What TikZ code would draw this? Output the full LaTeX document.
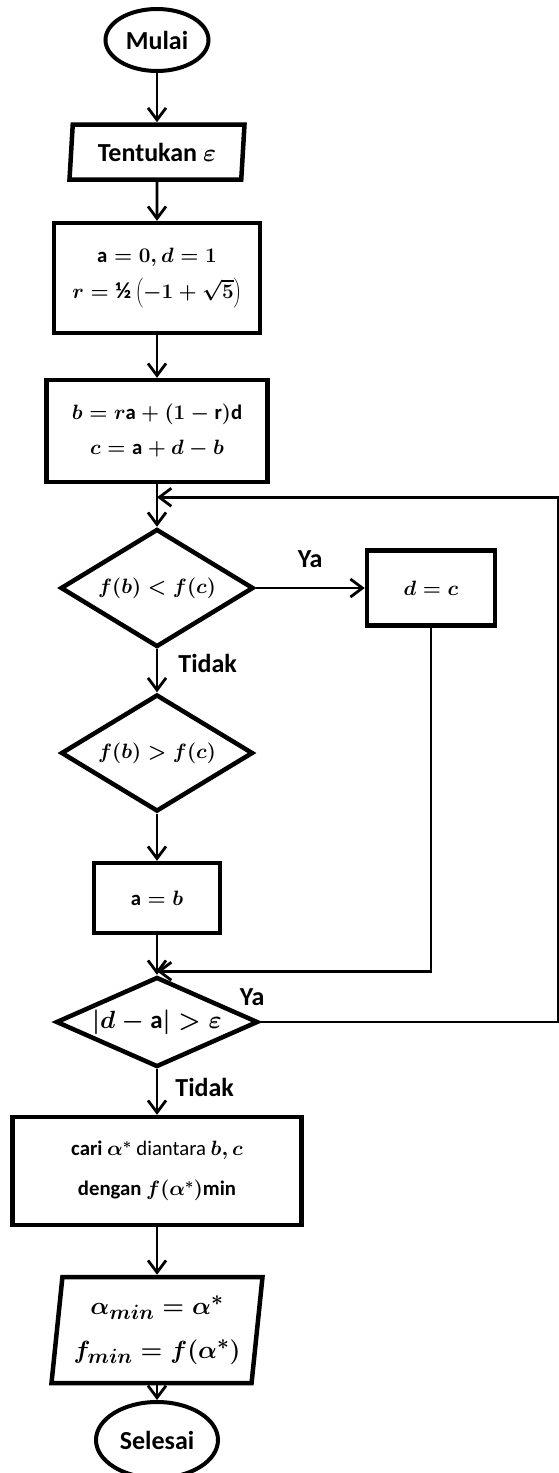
\documentclass[tikz,border=0pt]{standalone}
\usepackage{fontspec}
\setmainfont{Carlito}
\usetikzlibrary{shapes.geometric,arrows.meta}

\begin{document}
\begin{tikzpicture}[
                        x=1pt, y=1pt,
                        node distance=120pt,
                        font=\fontsize{26}{31}\selectfont\bfseries\boldmath,
                        formula/.style 2 args={
                            font=\fontsize{#1}{#2}\selectfont\bfseries\boldmath
                        },
                        terminal/.style={
                            ellipse,
                            draw,
                            line width=4pt,
                            inner sep=0pt
                        },
                        io/.style={
                            trapezium,
                            trapezium stretches body,
                            draw,
                            line width=4.5pt,
                            align=center,
                            inner sep=0pt
                        },
                        block/.style={
                            rectangle,
                            draw,
                            line width=4.5pt,
                            align=center,
                            inner sep=0pt
                        },
                        decision/.style={
                            diamond,
                            draw,
                            line width=4.5pt,
                            align=center,
                            inner sep=0pt
                        },
                        answer/.style={
                            inner sep=0pt
                        },
                        line/.style={
                            draw,
                            line width=2.8pt,
                            -{Straight Barb[length=12pt,width=18pt]}
                        }]

                        \useasboundingbox (0,0) rectangle (558,-1473);

                        \node (start) [terminal, minimum width=103pt, minimum height=62pt] at (157,-40) {Mulai};
                        \node (input_epsilon) [io, node distance=112pt, below of=start, trapezium left angle=80, trapezium right angle=100, minimum width=175pt, minimum height=55pt] {Tentukan $\varepsilon$};
                        \node (init_values) [block, formula={20.74}{36}, node distance=126pt, below of=input_epsilon, minimum width=206pt, minimum height=110pt] {$\mathrm{a} = 0, d = 1$\\$r = \mbox{\fontsize{23}{28}\selectfont ½}\left(-1 + \sqrt{5}\right)$};
                        \node (compute_bc) [block, formula={20.74}{35}, node distance=153pt, below of=init_values, minimum width=221pt, minimum height=102pt] {$b = r\mathrm{a} + (1 - \mathrm{r})\mathrm{d}$\\$c = \mathrm{a} + d - b$};
                        \node (check_less) [decision, formula={20.74}{26}, aspect=1.64, node distance=157pt, below of=compute_bc, minimum width=193pt, minimum height=118pt] {$f(b) < f(c)$};
                        \node (update_d) [block, formula={20.74}{26}, node distance=274pt, right of=check_less, minimum width=128pt, minimum height=75pt] {$d = c$};
                        \node (check_greater) [decision, formula={20.74}{26}, aspect=1.64, node distance=165pt, below of=check_less, minimum width=192pt, minimum height=117pt] {$f(b) > f(c)$};
                        \node (update_a) [block, formula={20.74}{26}, node distance=145pt, below of=check_greater, minimum width=126pt, minimum height=70pt] {$\mathrm{a} = b$};
                        \node (check_stop) [decision, formula={24.88}{30}, aspect=2.24, node distance=124pt, below of=update_a, minimum width=202pt, minimum height=90pt] {$|d - \mathrm{a}| > \varepsilon$};
                        \node (choose_alpha) [block, formula={20.74}{40}, node distance=149pt, below of=check_stop, minimum width=289pt, minimum height=108pt] {cari $\alpha^{*}$ {\mdseries diantara} $b, c$\\dengan $f(\alpha^{*})$min};
                        \node (output_min) [io, formula={24.88}{44}, node distance=159pt, below of=choose_alpha, trapezium left angle=81, trapezium right angle=99, minimum width=211pt, minimum height=106pt] {$\alpha_{min} = \alpha^{*}$\\$f_{min} = f(\alpha^{*})$};
                        \node (finish) [terminal, node distance=110pt, below of=output_min, minimum width=122pt, minimum height=76pt] {Selesai};

                        \coordinate (join_top) at ([yshift=-13pt]compute_bc.south);
                        \coordinate (join_bottom) at ([yshift=-36pt]update_a.south);
                        \coordinate (loop_right) at ([xshift=298pt]check_stop.east);

                        \draw [line] (start) -- (input_epsilon);
                        \draw [line] (input_epsilon) -- (init_values);
                        \draw [line] (init_values) -- (compute_bc);
                        \draw [line] (compute_bc) -- (check_less);
                        \draw [line] (check_less) -- node [answer, above=19pt] {Ya} (update_d);
                        \draw [line] (check_less) -- node [answer, right=20pt, pos=0.34] {Tidak} (check_greater);
                        \draw [line] (check_greater) -- (update_a);
                        \draw [line] (update_a) -- (check_stop);
                        \draw [line] (update_d) |- (join_bottom);
                        \draw [line] (check_stop.east) -- node [answer, pos=0, above=15pt, xshift=-8pt] {Ya} (loop_right) |- (join_top);
                        \draw [line] (check_stop) -- node [answer, right=17pt, pos=0.4] {Tidak} (choose_alpha);
                        \draw [line] (choose_alpha) -- (output_min);
                        \draw [line] (output_min) -- (finish);

                    \end{tikzpicture}
\end{document}
